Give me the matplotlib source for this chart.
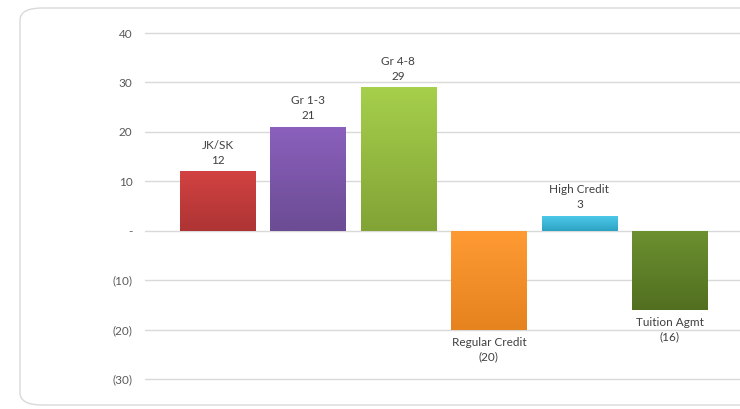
import matplotlib
matplotlib.use("Agg")
import matplotlib.pyplot as plt
import numpy as np
from matplotlib.patches import FancyBboxPatch
from matplotlib.colors import LinearSegmentedColormap

categories = ["JK/SK", "Gr 1-3", "Gr 4-8", "Regular Credit", "High Credit", "Tuition Agmt"]
values = [12, 21, 29, -20, 3, -16]
top_colors = ["#D24242", "#8A60BC", "#A6CF4B", "#FF9A33", "#4CC8E8", "#6C9030"]
bot_colors = ["#AE3434", "#6C4C94", "#82A336", "#E5831F", "#2EA3C4", "#526F20"]
yticks = [-30, -20, -10, 0, 10, 20, 30, 40]

plt.rcParams['font.family'] = ['Lato', 'DejaVu Sans']

W, H = 740, 409
fig = plt.figure(figsize=(W/100, H/100), dpi=100)

# rounded chart-area border
border = FancyBboxPatch((20/W, 4/H), 760/W, 397/H,
                        boxstyle="round,pad=0,rounding_size=0.03",
                        transform=fig.transFigure, facecolor="white",
                        edgecolor="#D9D9D9", linewidth=1.0, zorder=-5)
fig.patches.append(border)

ppu = 346 / 70.0
ax = fig.add_axes([145/W, 1-(379+ppu)/H, (W-145)/W, (346+2*ppu)/H])
ax.set_facecolor("none")
ax.set_zorder(2)
x = np.arange(len(categories))
width = 0.83
bars = ax.bar(x, values, width=width, color=top_colors, zorder=3)

for i, (b, tc, bc, v) in enumerate(zip(bars, top_colors, bot_colors, values)):
    cmap = LinearSegmentedColormap.from_list("g", [bc, tc])
    grad = np.linspace(0, 1, 100).reshape(-1, 1)
    x0, w = b.get_x(), b.get_width()
    y0, h = b.get_y(), b.get_height()
    im = ax.imshow(grad, cmap=cmap, aspect="auto", origin="lower",
                   extent=[x0, x0 + w, min(y0, y0 + h), max(y0, y0 + h)],
                   zorder=4, interpolation="bilinear")
    im.set_clip_path(b)
    lab = f"{v}" if v >= 0 else f"({abs(v)})"
    name = categories[i]
    if v >= 0:
        ax.annotate(f"{name}\n{lab}", (x0 + w/2, v), xytext=(0, 4),
                    textcoords="offset points", ha="center", va="bottom",
                    fontsize=8.5, color="#404040", linespacing=1.45,
                    annotation_clip=False, zorder=6)
    else:
        ax.annotate(f"{name}\n{lab}", (x0 + w/2, v), xytext=(0, -5),
                    textcoords="offset points", ha="center", va="top",
                    fontsize=8.5, color="#404040", linespacing=1.45,
                    annotation_clip=False, zorder=6)

ax.set_xlim(-0.8, -0.8 + (W-145)/90.5)
ax.set_ylim(-31, 41)
ax.set_yticks(yticks)
ax.set_yticklabels(["-" if t == 0 else (f"({abs(t)})" if t < 0 else str(t)) for t in yticks])
ax.tick_params(axis="y", length=0, pad=9, labelsize=8.5, labelcolor="#595959")
ax.set_xticks([])
ax.grid(axis="y", color="#D9D9D9", linewidth=1.0, zorder=0)
ax.set_axisbelow(True)
for s in ax.spines.values():
    s.set_visible(False)

fig.savefig("out.png", dpi=100)
